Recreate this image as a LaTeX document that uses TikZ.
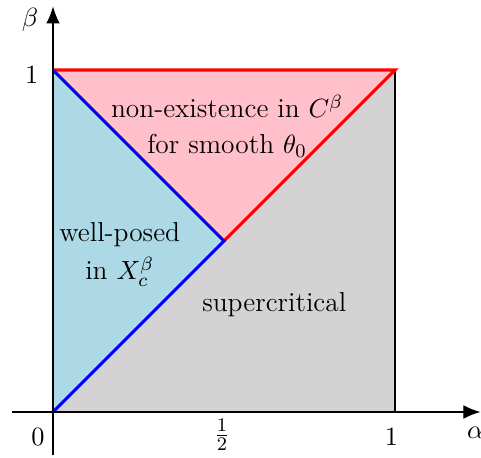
\documentclass[tikz,border=0pt]{standalone}
\usetikzlibrary{arrows.meta}
\definecolor{lblue}{RGB}{173,216,230}
\definecolor{lpink}{RGB}{255,192,203}
\definecolor{lgray}{RGB}{211,211,211}
\tikzset{
  axis/.style={line width=0.5pt,-{Latex[length=2.5mm,width=2mm]}},
  lbl/.style={font=\fontsize{11.4}{13.8}\selectfont,align=center,inner sep=0pt},
  thickred/.style={red,line width=1.3pt},
  thickblue/.style={blue,line width=1.3pt}
}
\begin{document}
\begin{tikzpicture}[x=5cm,y=5cm]
\useasboundingbox (-0.155,-0.1345) rectangle (1.2515,1.2047);
\coordinate (O) at (0,0);
\coordinate (A) at (1,0);
\coordinate (B) at (1,1);
\coordinate (C) at (0,1);
\coordinate (M) at (0.5,0.5);
\fill[lgray] (O) -- (A) -- (B) -- (M) -- cycle;
\fill[lpink] (C) -- (B) -- (M) -- cycle;
\fill[lblue] (O) -- (M) -- (C) -- cycle;
\draw[line width=0.8pt] (A) -- (B);
\draw[thickred] (C) -- (B) -- (M);
\draw[thickblue] (O) -- (M) -- (C);
\coordinate (xs) at (-0.12,0);
\coordinate (xe) at (1.25,0);
\coordinate (ys) at (0,-0.126);
\coordinate (ye) at (0,1.186);
\draw[axis] (xs) -- (xe);
\draw[axis] (ys) -- (ye);
\node[lbl] (alpha) at (1.236,-0.061) {$\alpha$};
\node[lbl] (beta) at (-0.067,1.146) {$\beta$};
\node[lbl] (y1) at (-0.062,0.985) {$1$};
\node[lbl] (x0) at (-0.044,-0.073) {$0$};
\node[lbl] (xh) at (0.494,-0.067) {$\frac{1}{2}$};
\node[lbl] (x1) at (0.99,-0.073) {$1$};
\node[lbl] (ne) at (0.509,0.836) {non-existence in $C^\beta$\\[1pt] for smooth $\theta_0$};
\node[lbl] (wp) at (0.195,0.46) {well-posed\\[2pt] in $X_c^\beta$};
\node[lbl] (sc) at (0.647,0.313) {supercritical};
\end{tikzpicture}
\end{document}
